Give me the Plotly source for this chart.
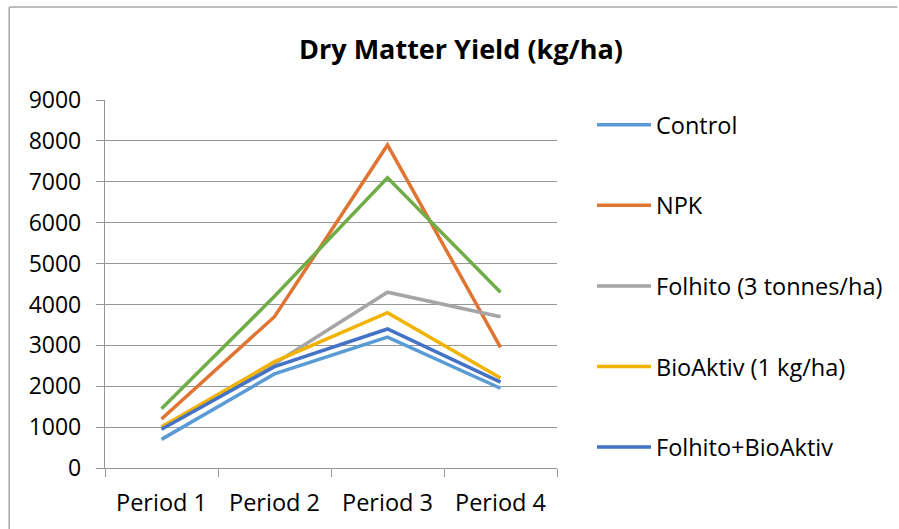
import plotly.graph_objects as go

periods = ["Period 1", "Period 2", "Period 3", "Period 4"]
control = [700, 2300, 3200, 1950]
npk = [1200, 3700, 7900, 2950]
folhito = [1000, 2550, 4300, 3700]
bioaktiv = [1000, 2600, 3800, 2200]
folhito_bioaktiv = [950, 2480, 3400, 2100]
series6 = [1450, 4200, 7100, 4300]

series = [
    ("Control", control, "#5B9BD5", True),
    ("NPK", npk, "#E07432", True),
    ("Folhito (3 tonnes/ha)", folhito, "#A5A5A5", True),
    ("BioAktiv (1 kg/ha)", bioaktiv, "#F2B200", True),
    ("Folhito+BioAktiv", folhito_bioaktiv, "#4472C4", True),
    ("Series 6", series6, "#70AD47", False),
]

FONT = "Open Sans"
fig = go.Figure()
for i, (name, vals, color, show) in enumerate(series):
    fig.add_trace(go.Scatter(
        x=periods, y=vals, name=name, mode="lines",
        line=dict(color=color, width=3.5),
        legendgroup=f"g{i}", showlegend=show,
    ))

W, H = 899, 529
L, R, T, B = 105, 341, 100, 61
pw, ph = W - L - R, H - T - B

def px(x):
    return (x - L) / pw

def py(y):
    return (H - B - y) / ph

border = dict(color="#A6A6A6", width=1.5)

fig.update_layout(
    width=W, height=H,
    margin=dict(l=L, r=R, t=T, b=B),
    paper_bgcolor="white", plot_bgcolor="white",
    font=dict(family=FONT, size=23, color="#000000"),
    title=dict(text="<b>Dry Matter Yield (kg/ha)</b>", x=461 / W, xanchor="center",
               y=1 - 50 / H, yanchor="middle", font=dict(size=27, family=FONT)),
    xaxis=dict(
        type="category", range=[-0.5, 3.5], showgrid=False,
        showline=True, linecolor="#969696", linewidth=1.3,
        ticks="outside", tickson="boundaries", ticklen=8, tickcolor="#969696",
        tickwidth=1.3, ticklabelstandoff=14,
        tickfont=dict(size=23.5, family=FONT),
    ),
    yaxis=dict(
        range=[0, 9000], dtick=1000, tick0=0,
        showgrid=True, gridcolor="#969696", gridwidth=1.3,
        showline=True, linecolor="#969696", linewidth=1.3,
        ticks="outside", ticklen=8, tickcolor="#969696", tickwidth=1.3,
        ticklabelstandoff=10, zeroline=False,
        tickfont=dict(size=23, family=FONT),
    ),
    legend=dict(
        x=px(592), xanchor="left", y=py(103), yanchor="top",
        tracegroupgap=47, itemwidth=54, maxheight=500,
        font=dict(size=23.5, family=FONT), bgcolor="rgba(0,0,0,0)",
    ),
    shapes=[
        dict(type="line", xref="paper", yref="paper",
             x0=px(9), x1=px(899), y0=py(7), y1=py(7), line=border, layer="below"),
        dict(type="line", xref="paper", yref="paper",
             x0=px(9), x1=px(9), y0=py(7), y1=py(529), line=border, layer="below"),
        dict(type="rect", xref="paper", yref="paper",
             x0=px(886), x1=px(905), y0=py(535), y1=py(9),
             fillcolor="white", line=dict(width=0), layer="above"),
    ],
)

fig.write_html(
    "out.html", config={"displayModeBar": False},
    post_script=("document.body.style.margin='0';"
                 "document.body.style.overflow='hidden';"
                 "document.documentElement.style.overflow='hidden';"),
)
